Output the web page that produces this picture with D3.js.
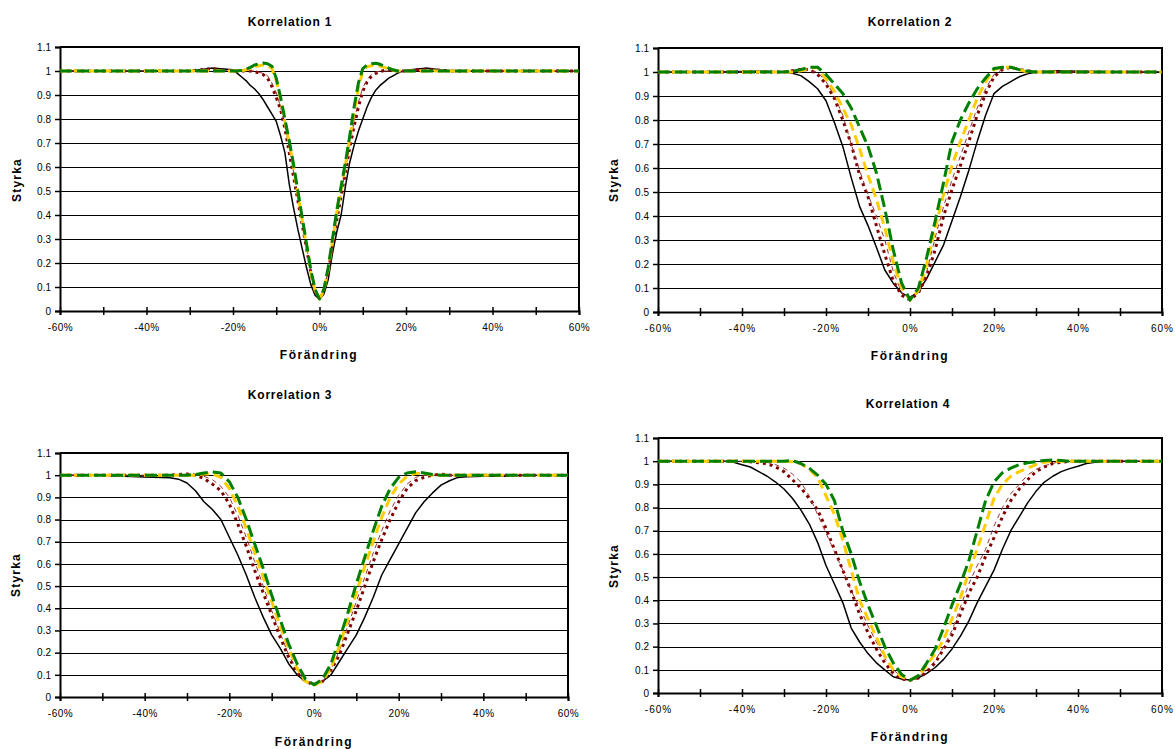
<!DOCTYPE html>
<html><head><meta charset="utf-8">
<script src="https://cdn.jsdelivr.net/npm/d3@7"></script>
<style>
body{margin:0;background:#fff}
svg{display:block}
text{font-family:"Liberation Sans",Arial,sans-serif;fill:#000}
</style>
</head><body>
<svg id="chart" width="1175" height="749"></svg>
<script>
// ---------- data ----------
const chartTitles = ["Korrelation 1", "Korrelation 2", "Korrelation 3", "Korrelation 4"];
const yAxisTitle = "Styrka";
const xAxisTitle = "Förändring";
const xTickValues = [-60,-50,-40,-30,-20,-10,0,10,20,30,40,50,60];
const xTickLabels = ["-60%","","-40%","","-20%","","0%","","20%","","40%","","60%"];
const yTickValues = [0,0.1,0.2,0.3,0.4,0.5,0.6,0.7,0.8,0.9,1,1.1];
const yTickLabels = ["0","0.1","0.2","0.3","0.4","0.5","0.6","0.7","0.8","0.9","1","1.1"];

// Korrelation 1
const xs1 = [-60,-50,-40,-30,-25,-20,-19,-18,-17,-16,-15,-14,-13,-12,-11,-10,-9,-8,-7,-6,-5,-4,-3,-2,-1,0,1,2,3,4,5,6,7,8,9,10,11,12,13,14,15,16,17,18,19,20,25,30,40,50,60];
const k1a = [1,1,1,1,1.012,1.005,0.99,0.975,0.96,0.94,0.925,0.905,0.88,0.85,0.82,0.79,0.73,0.66,0.53,0.43,0.34,0.26,0.18,0.11,0.065,0.05,0.07,0.13,0.24,0.33,0.40,0.52,0.62,0.69,0.75,0.80,0.85,0.89,0.92,0.94,0.955,0.97,0.98,0.99,0.998,1.003,1.012,1,1,1,1];
const k1b = [1,1,1,1,1.01,1.0,1.0,1.0,1.0,1.0,0.997,0.992,0.985,0.97,0.935,0.89,0.84,0.76,0.66,0.56,0.46,0.36,0.26,0.16,0.08,0.05,0.08,0.16,0.27,0.38,0.48,0.58,0.68,0.77,0.85,0.915,0.955,0.978,0.99,0.998,1.002,1.003,1.003,1.0,1.0,1.0,1.008,1,1,1,1];
const k1c = [1,1,1,1,1.005,1.0,1,1,1,1,1.0,0.995,0.99,0.98,0.95,0.91,0.85,0.77,0.68,0.58,0.47,0.37,0.27,0.165,0.085,0.05,0.085,0.17,0.28,0.39,0.49,0.59,0.69,0.79,0.87,0.93,0.965,0.985,0.995,1.0,1.0,1.0,1.0,1.0,1.0,1,1.005,1,1,1,1];
const k1d = [1,1,1,1,1,1,1.0,1.0,1.005,1.01,1.018,1.022,1.025,1.022,1.01,0.96,0.88,0.79,0.70,0.60,0.49,0.38,0.27,0.16,0.085,0.05,0.085,0.17,0.29,0.41,0.51,0.61,0.72,0.83,0.93,1.0,1.018,1.022,1.025,1.02,1.015,1.008,1.003,1.0,1.0,1,1,1,1,1,1];
const k1e = [1,1,1,1,1,1,1.0,1.003,1.008,1.015,1.025,1.03,1.033,1.03,1.02,0.97,0.89,0.80,0.71,0.61,0.50,0.39,0.28,0.17,0.09,0.05,0.09,0.18,0.30,0.42,0.52,0.62,0.73,0.85,0.95,1.01,1.025,1.03,1.032,1.028,1.02,1.012,1.005,1.0,1.0,1,1,1,1,1,1];

// Korrelation 2
const xs2 = [-60,-50,-40,-35,-30,-28,-26,-24,-22,-20,-18,-16,-14,-12,-10,-8,-6,-4,-2,0,2,4,6,8,10,12,14,16,18,20,22,24,26,28,30,35,40,50,60];
const k2a = [1,1,1.002,1.003,1.0,0.995,0.985,0.96,0.93,0.88,0.79,0.69,0.56,0.44,0.36,0.27,0.175,0.12,0.08,0.06,0.085,0.14,0.21,0.28,0.38,0.48,0.59,0.71,0.82,0.91,0.94,0.96,0.98,0.993,1.0,1.005,1.003,1,1];
const k2b = [1,1,1,1,1.0,1.005,1.01,1.01,0.99,0.95,0.89,0.80,0.70,0.57,0.48,0.36,0.24,0.13,0.07,0.05,0.08,0.15,0.26,0.40,0.51,0.61,0.71,0.82,0.91,0.98,1.01,1.02,1.01,1.005,1.0,1,1,1,1];
const k2c = [1,1,1,1,1,1.0,1.005,1.005,1.0,0.96,0.90,0.82,0.70,0.59,0.49,0.40,0.30,0.17,0.08,0.05,0.08,0.17,0.31,0.44,0.55,0.65,0.75,0.85,0.93,0.99,1.01,1.02,1.01,1.0,1.0,1,1,1,1];
const k2d = [1,1,1,1,1,1.0,1.005,1.015,1.02,0.97,0.92,0.85,0.78,0.68,0.57,0.47,0.35,0.21,0.10,0.05,0.09,0.20,0.35,0.49,0.61,0.71,0.80,0.89,0.96,1.01,1.02,1.02,1.01,1.0,1.0,1,1,1,1];
const k2e = [1,1,1,1,1,1.003,1.01,1.02,1.02,0.99,0.95,0.91,0.85,0.77,0.69,0.58,0.43,0.26,0.12,0.05,0.10,0.23,0.38,0.54,0.71,0.80,0.87,0.93,0.975,1.015,1.02,1.02,1.01,1.003,1.0,1,1,1,1];

// Korrelation 3
const xs3 = [-60,-50,-45,-40,-36,-34,-32,-30,-28,-26,-24,-22,-20,-18,-16,-14,-12,-10,-8,-6,-4,-2,0,2,4,6,8,10,12,14,16,18,20,22,24,26,28,30,32,34,36,40,45,50,60];
const k3a = [1,1,0.995,0.992,0.99,0.988,0.982,0.965,0.93,0.88,0.845,0.80,0.72,0.64,0.55,0.45,0.36,0.28,0.22,0.15,0.10,0.07,0.06,0.07,0.10,0.16,0.22,0.28,0.36,0.45,0.55,0.62,0.69,0.76,0.83,0.88,0.92,0.955,0.975,0.99,0.993,0.995,0.995,1,1];
const k3b = [1,1,1,1,1,1.0,1.003,1.005,1.0,0.985,0.96,0.93,0.87,0.78,0.68,0.57,0.47,0.37,0.27,0.18,0.11,0.07,0.055,0.07,0.12,0.19,0.29,0.39,0.50,0.61,0.71,0.80,0.88,0.94,0.975,0.99,1.0,1.005,1.0,1.0,1.0,1,1,1,1];
const k3c = [1,1,1,1,1,1,1,1,1.0,0.995,0.98,0.95,0.90,0.82,0.72,0.61,0.50,0.39,0.29,0.19,0.12,0.07,0.055,0.07,0.12,0.21,0.32,0.43,0.54,0.65,0.75,0.84,0.91,0.96,0.99,1.0,1.0,1,1,1,1,1,1,1,1];
const k3d = [1,1,1,1,1,1,1,1,1.0,1.005,1.005,0.99,0.94,0.86,0.76,0.65,0.54,0.43,0.32,0.22,0.13,0.07,0.055,0.07,0.13,0.23,0.35,0.47,0.59,0.70,0.81,0.90,0.96,0.995,1.008,1.008,1.0,1,1,1,1,1,1,1,1];
const k3e = [1,1,1,1,1,1,1,1,1.003,1.01,1.015,1.01,0.97,0.90,0.80,0.69,0.58,0.46,0.35,0.24,0.15,0.08,0.055,0.08,0.15,0.26,0.38,0.51,0.63,0.75,0.86,0.94,0.99,1.01,1.015,1.01,1.003,1.0,1,1,1,1,1,1,1];

// Korrelation 4
const xs4 = [-60,-50,-46,-44,-42,-40,-38,-36,-34,-32,-30,-28,-26,-24,-22,-20,-18,-16,-14,-12,-10,-8,-6,-4,-2,0,2,4,6,8,10,12,14,16,18,20,22,24,26,28,30,32,34,36,38,40,42,44,46,50,60];
const k4a = [1,1,1,1,0.995,0.985,0.975,0.955,0.935,0.91,0.88,0.84,0.79,0.73,0.65,0.55,0.47,0.39,0.28,0.22,0.17,0.13,0.10,0.07,0.06,0.056,0.065,0.085,0.11,0.145,0.19,0.245,0.31,0.39,0.46,0.53,0.62,0.70,0.76,0.82,0.87,0.91,0.935,0.955,0.968,0.978,0.99,0.995,1.0,1,1];
const k4b = [1,1,1,1,1,1,0.997,0.993,0.99,0.975,0.955,0.92,0.885,0.84,0.79,0.71,0.62,0.53,0.44,0.34,0.26,0.19,0.13,0.085,0.06,0.055,0.065,0.09,0.13,0.19,0.25,0.34,0.43,0.50,0.59,0.67,0.76,0.83,0.88,0.92,0.955,0.975,0.99,0.995,1.0,1,1,1,1,1,1];
const k4c = [1,1,1,1,1,1,1,1.0,0.995,0.985,0.97,0.945,0.91,0.85,0.77,0.69,0.61,0.53,0.44,0.37,0.29,0.22,0.15,0.10,0.07,0.055,0.07,0.10,0.14,0.20,0.27,0.37,0.47,0.55,0.62,0.72,0.80,0.86,0.90,0.94,0.965,0.98,0.99,1.0,1,1,1,1,1,1,1];
const k4d = [1,1,1,1,1,1,1,1,1,1,1.0,0.998,0.99,0.965,0.93,0.85,0.77,0.66,0.53,0.40,0.32,0.24,0.16,0.10,0.07,0.055,0.075,0.12,0.17,0.23,0.32,0.41,0.52,0.62,0.73,0.84,0.90,0.935,0.955,0.97,0.985,0.995,1.0,1,1,1,1,1,1,1,1];
const k4e = [1,1,1,1,1,1,1,1,1,1,1.0,1.003,0.99,0.97,0.94,0.90,0.83,0.70,0.60,0.48,0.38,0.29,0.20,0.13,0.08,0.055,0.075,0.13,0.19,0.28,0.38,0.47,0.57,0.70,0.83,0.91,0.95,0.97,0.985,0.993,0.998,1.003,1.005,1.003,1,1,1,1,1,1,1];

// ---------- presentation ----------
const seriesStyles = [
  {stroke:"#000000", width:1.5, dash:null},
  {stroke:"#800000", width:3,   dash:"3,4"},
  {stroke:"#993333", width:1,   dash:"5,4"},
  {stroke:"#FFCC00", width:3,   dash:"9,5"},
  {stroke:"#008000", width:3,   dash:"12,5"}
];
const layouts = [
  {l:60,  r:579,  t:47,  b:311, tx:290, ty:26,  sx:17,  sy:180, fx:319, fy:359},
  {l:658, r:1162, t:48,  b:312, tx:910, ty:26,  sx:614, sy:180, fx:910, fy:360},
  {l:60,  r:568,  t:453, b:697, tx:290, ty:399, sx:16,  sy:575, fx:314, fy:746},
  {l:658, r:1162, t:438, b:693, tx:908, ty:408, sx:614, sy:566, fx:910, fy:741}
];
const chartData = [
  {xs:xs1, series:[k1a,k1b,k1c,k1d,k1e]},
  {xs:xs2, series:[k2a,k2b,k2c,k2d,k2e]},
  {xs:xs3, series:[k3a,k3b,k3c,k3d,k3e]},
  {xs:xs4, series:[k4a,k4b,k4c,k4d,k4e]}
];

const svg = d3.select("#chart");

chartData.forEach((cd, ci) => {
  const L = layouts[ci];
  const g = svg.append("g");
  const x = d3.scaleLinear().domain([-60, 60]).range([L.l, L.r]);
  const y = d3.scaleLinear().domain([0, 1.1]).range([L.b, L.t]);

  // gridlines
  g.append("g").selectAll("line")
    .data(yTickValues.filter(v => v > 0 && v < 1.1))
    .join("line")
    .attr("x1", L.l).attr("x2", L.r)
    .attr("y1", d => Math.round(y(d)) + 0.5).attr("y2", d => Math.round(y(d)) + 0.5)
    .attr("stroke", "#000").attr("stroke-width", 1);

  // top and right border
  g.append("path")
    .attr("d", `M${L.l},${y(1.1)}H${L.r}V${L.b}`)
    .attr("fill", "none").attr("stroke", "#000").attr("stroke-width", 2);

  // y axis
  const ya = d3.axisLeft(y).tickValues(yTickValues)
    .tickFormat((d, i) => yTickLabels[i]).tickSize(5).tickPadding(4);
  const yg = g.append("g").attr("transform", `translate(${L.l},0)`).call(ya);
  yg.select(".domain").attr("stroke-width", 2);
  yg.selectAll(".tick line").attr("stroke-width", 1.5);
  yg.selectAll("text").attr("font-size", 10).attr("font-family", '"Liberation Sans",Arial,sans-serif');

  // x axis
  const xa = d3.axisBottom(x).tickValues(xTickValues)
    .tickFormat((d, i) => xTickLabels[i]).tickSize(4).tickPadding(9);
  const xg = g.append("g").attr("transform", `translate(0,${L.b})`).call(xa);
  xg.select(".domain").attr("stroke-width", 2);
  xg.selectAll(".tick line").attr("y1", -4).attr("y2", 4).attr("stroke-width", 1.5);
  xg.selectAll("text").attr("font-size", 10).attr("letter-spacing", ci % 2 ? "1px" : "0.5px")
    .attr("font-family", '"Liberation Sans",Arial,sans-serif');
  g.selectAll(".domain").attr("stroke", "#000");

  // series
  const line = d3.line().x(d => x(d[0])).y(d => y(d[1]));
  cd.series.forEach((vals, si) => {
    const st = seriesStyles[si];
    const pts = cd.xs.map((xv, k) => [xv, vals[k]]);
    g.append("path")
      .attr("d", line(pts))
      .attr("fill", "none")
      .attr("stroke", st.stroke)
      .attr("stroke-width", st.width)
      .attr("stroke-dasharray", st.dash)
      .attr("stroke-linejoin", "round")
      .attr("stroke-linecap", "butt");
  });

  // titles
  g.append("text").attr("x", L.tx).attr("y", L.ty)
    .attr("text-anchor", "middle").attr("font-size", 12).attr("font-weight", "bold")
    .attr("letter-spacing", "0.8px").text(chartTitles[ci]);
  g.append("text").attr("transform", `translate(${L.sx},${L.sy}) rotate(-90)`)
    .attr("text-anchor", "middle").attr("dy", "0.35em").attr("font-size", 12).attr("font-weight", "bold")
    .attr("letter-spacing", "1.2px").text(yAxisTitle);
  g.append("text").attr("x", L.fx).attr("y", L.fy)
    .attr("text-anchor", "middle").attr("font-size", 12).attr("font-weight", "bold")
    .attr("letter-spacing", "1.5px").text(xAxisTitle);
});
</script>
</body></html>
